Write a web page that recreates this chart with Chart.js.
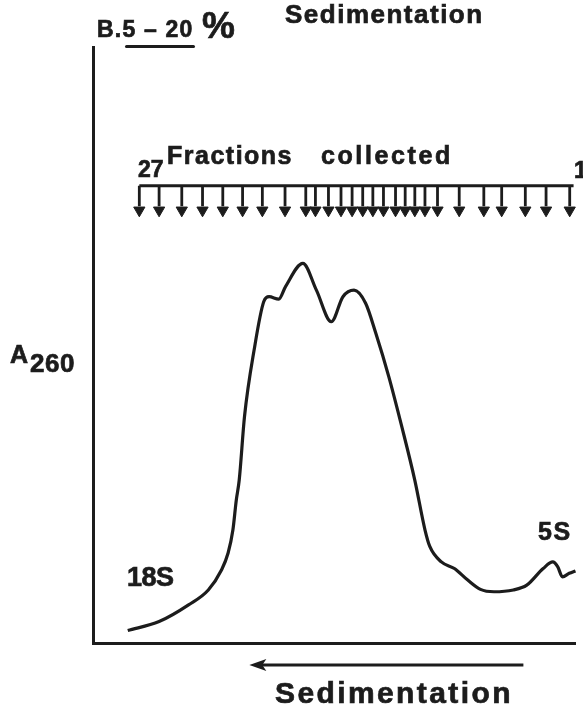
<!DOCTYPE html>
<html>
<head>
<meta charset="utf-8">
<script src="https://cdn.jsdelivr.net/npm/chart.js@4"></script>
<style>
  body { margin: 0; background: #fff; }
  #wrap { position: relative; width: 583px; height: 709px; overflow: hidden; }
  #wrap .lbl {
    position: absolute; white-space: nowrap; line-height: 1;
    font-family: "Liberation Sans", Arial, sans-serif; font-weight: bold; color: #1c1c1c;
    -webkit-text-stroke: 0.7px #1c1c1c;
  }
  #uline { position: absolute; left: 125px; top: 45px; width: 70px; height: 3px; border-radius: 2px; background: #1c1c1c; }
</style>
</head>
<body>
<div id="wrap">
  <canvas id="chart" width="583" height="709"></canvas>
  <div class="lbl" style="left:285px;top:1px;font-size:26px;letter-spacing:1.5px">Sedimentation</div>
  <div class="lbl" style="left:97px;top:18px;font-size:23px;letter-spacing:1.2px">B.5 – 20</div>
  <div class="lbl" style="left:202px;top:7px;font-size:37px;letter-spacing:-1px">%</div>
  <div id="uline"></div>
  <div class="lbl" style="left:167px;top:143px;font-size:25px;letter-spacing:1.5px">Fractions</div>
  <div class="lbl" style="left:321px;top:143px;font-size:25px;letter-spacing:2.6px">collected</div>
  <div class="lbl" style="left:138px;top:158px;font-size:23px">27</div>
  <div class="lbl" style="left:574px;top:159px;font-size:23px">1</div>
  <div class="lbl" style="left:10px;top:341px;font-size:25px">A<span style="position:relative;top:9px;margin-left:2px;font-size:26px;letter-spacing:0.5px">260</span></div>
  <div class="lbl" style="left:127px;top:564px;font-size:27px;letter-spacing:-0.5px">18S</div>
  <div class="lbl" style="left:538px;top:519px;font-size:25px;letter-spacing:1.5px">5S</div>
  <div class="lbl" style="left:275px;top:678px;font-size:30px;letter-spacing:2.4px">Sedimentation</div>
</div>
<script>
// A260 trace: x = position along the gradient (0 = left axis), y = relative absorbance
const curveX = [7.2, 13.7, 19.8, 23.9, 26.6, 28.0, 29.0, 29.7, 30.3, 31.4, 33.4, 35.4, 36.5, 38.5, 39.9, 43.5,
  46.3, 49.4, 51.8, 54.1, 56.5, 58.6, 61.3, 64.0, 66.7, 68.8, 69.8, 72.2, 74.9, 77.6, 80.3, 83.1, 87.1,
  89.9, 93.3, 95.3, 96.3, 97.3, 98.7, 100];
const curveY = [2.1, 3.6, 6.4, 8.9, 12.2, 15.1, 19.0, 24.0, 27.3, 38.0, 49.2, 57.3, 58.1, 57.7, 59.8, 63.7,
  59.2, 53.9, 58.1, 59.2, 57.0, 52.0, 44.7, 36.3, 27.3, 19.0, 16.2, 13.6, 12.5, 10.6, 9.0, 8.6, 8.9,
  9.7, 12.5, 13.6, 12.8, 11.1, 11.7, 12.1];

// where the 27 fractions were cut (27 on the left ... 1 on the right)
const fractions = [9.6, 13.7, 18.4, 22.7, 26.9, 31.0, 35.1, 39.8, 44.1, 46.1, 48.8, 51.4, 53.7, 55.9,
  58.0, 60.2, 62.7, 64.7, 66.7, 68.8, 71.4, 75.9, 81.0, 84.7, 89.6, 93.9, 98.8];

// fraction marker bar and sedimentation arrow (in axis units)
const barY = 76.7;
const stemEnd = 73.3;
const headY = 72.6;
const barSpan = [9.6, 99.6];
const sedArrow = [89.2, 32.4];

const ink = '#1c1c1c';

const stems = [];
fractions.forEach(f => {
  stems.push({ x: f, y: barY }, { x: f, y: stemEnd }, { x: f, y: null });
});

const sedArrowPlugin = {
  id: 'sedArrow',
  afterDraw(chart) {
    const { ctx, scales: { x }, chartArea } = chart;
    const y = chartArea.bottom + 22;
    const x0 = x.getPixelForValue(sedArrow[0]);
    const x1 = x.getPixelForValue(sedArrow[1]);
    ctx.save();
    ctx.strokeStyle = ink;
    ctx.fillStyle = ink;
    ctx.lineWidth = 3;
    ctx.beginPath();
    ctx.moveTo(x0, y);
    ctx.lineTo(x1 + 10, y);
    ctx.stroke();
    ctx.beginPath();
    ctx.moveTo(x1, y);
    ctx.lineTo(x1 + 17, y - 6);
    ctx.lineTo(x1 + 13, y);
    ctx.lineTo(x1 + 17, y + 6);
    ctx.closePath();
    ctx.fill();
    ctx.restore();
  }
};

new Chart(document.getElementById('chart'), {
  type: 'line',
  data: {
    datasets: [
      {
        data: curveX.map((x, i) => ({ x, y: curveY[i] })),
        borderColor: ink, borderWidth: 3.2, pointRadius: 0,
        cubicInterpolationMode: 'monotone', fill: false
      },
      {
        data: [{ x: barSpan[0], y: barY }, { x: barSpan[1], y: barY }],
        borderColor: ink, borderWidth: 3, pointRadius: 0
      },
      {
        data: stems,
        borderColor: ink, borderWidth: 2.8, pointRadius: 0, spanGaps: false
      },
      {
        data: fractions.map(f => ({ x: f, y: headY })),
        showLine: false, pointStyle: 'triangle', rotation: 180, pointRadius: 6.5,
        backgroundColor: ink, borderColor: ink, borderWidth: 1
      }
    ]
  },
  options: {
    responsive: false,
    animation: false,
    clip: false,
    layout: { padding: { left: 93, top: 47, right: 0, bottom: 66 } },
    plugins: { legend: { display: false }, tooltip: { enabled: false } },
    scales: {
      x: {
        type: 'linear', min: 0, max: 100,
        grid: { display: false, drawTicks: false },
        ticks: { display: false },
        border: { display: true, color: ink, width: 3 },
        afterFit: s => { s.height = 0; }
      },
      y: {
        min: 0, max: 100,
        grid: { display: false, drawTicks: false },
        ticks: { display: false },
        border: { display: true, color: ink, width: 3 },
        afterFit: s => { s.width = 0; }
      }
    }
  },
  plugins: [sedArrowPlugin]
});
</script>
</body>
</html>
